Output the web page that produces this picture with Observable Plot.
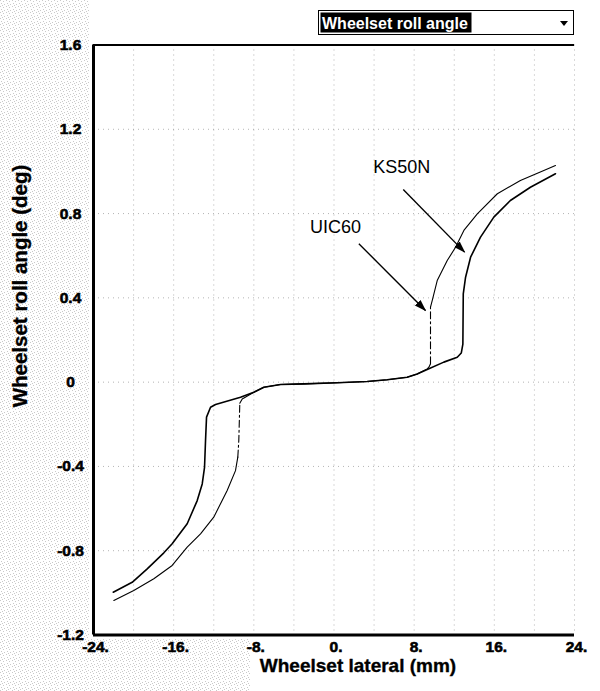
<!DOCTYPE html>
<html>
<head>
<meta charset="utf-8">
<script src="https://cdn.jsdelivr.net/npm/d3@7"></script>
<script src="https://cdn.jsdelivr.net/npm/@observablehq/plot@0.6"></script>
<style>
  html, body { margin: 0; padding: 0; background: #fff; }
  #chart svg { display: block; }
  #chart text.tick-heavy { stroke: #000; stroke-width: 0.6px; font-weight: bold; }
</style>
</head>
<body>
<div id="chart"></div>
<script>
// Axis ticks and their printed labels
const lateralTicks = [-24, -16, -8, 0, 8, 16, 24];
const lateralTickLabels = ["-24.", "-16.", "-8.", "0.", "8.", "16.", "24."];
const rollTicks = [1.6, 1.2, 0.8, 0.4, 0, -0.4, -0.8, -1.2];
const rollTickLabels = ["1.6", "1.2", "0.8", "0.4", "0", "-0.4", "-0.8", "-1.2"];
const lateralGrid = [-20, -16, -12, -8, -4, 0, 4, 8, 12, 16, 20, 24];
const rollGrid = [1.2, 0.8, 0.4, 0, -0.4, -0.8];

// UIC60 rail profile: wheelset lateral displacement (mm) vs roll angle (deg)
const uic60Lateral = [-21.97, -19.98, -17.98, -16.15, -14.65, -13.32, -12.0, -10.66, -9.83, -9.6,
  -9.5, -9.4, -9.16, -8.0, -7.0, -5.34, -3.0, 0.32, 3.3, 5.3, 7.3, 8.3, 9.3, 9.47, 9.63, 9.63,
  9.8, 10.3, 11.3, 12.13, 12.96, 14.3, 16.3, 18.6, 20.94, 22.1];
const uic60Roll = [-1.036, -0.989, -0.933, -0.870, -0.783, -0.720, -0.641, -0.514, -0.420, -0.356,
  -0.277, -0.100, -0.080, -0.048, -0.024, -0.011, -0.008, -0.003, 0.003, 0.011, 0.023, 0.039, 0.063, 0.071, 0.087, 0.356,
  0.387, 0.482, 0.577, 0.640, 0.720, 0.799, 0.894, 0.957, 1.004, 1.028];

// KS50N rail profile
const ks50nLateral = [-22.03, -20.14, -18.64, -16.98, -16.15, -14.65, -13.65, -13.15, -12.92, -12.82,
  -12.72, -12.32, -11.82, -9.33, -8.0, -7.0, -5.34, -3.0, 0.32, 3.3, 5.3, 7.3, 8.3, 9.3, 10.96,
  12.3, 12.7, 12.86, 12.9, 13.13, 13.63, 14.62, 15.95, 17.6, 19.6, 22.1];
const ks50nRoll = [-0.997, -0.950, -0.886, -0.810, -0.767, -0.672, -0.562, -0.483, -0.404, -0.277,
  -0.166, -0.119, -0.106, -0.072, -0.048, -0.024, -0.011, -0.008, -0.003, 0.003, 0.011, 0.023, 0.039, 0.060, 0.095,
  0.118, 0.138, 0.180, 0.419, 0.498, 0.593, 0.688, 0.783, 0.862, 0.925, 0.989];

// Annotations: label anchor and arrow (from -> to), in data units
const profileNames = ["UIC60", "KS50N"];
const labelLateral = [0.15, 6.77];
const labelRoll = [0.736, 1.021];
const arrowFromLateral = [2.48, 6.91];
const arrowFromRoll = [0.657, 0.914];
const arrowToLateral = [9.13, 13.03];
const arrowToRoll = [0.34, 0.617];

const selectorText = "Wheelset roll angle";
const xTitle = "Wheelset lateral (mm)";
const yTitle = "Wheelset roll angle (deg)";

// Split a curve into runs; near-vertical jumps (flange contact) become their own runs
function runs(xs, ys, steepSlope) {
  const out = [];
  let run = 0, prevSteep = null;
  for (let i = 0; i < xs.length - 1; i++) {
    const dx = xs[i + 1] - xs[i], dy = ys[i + 1] - ys[i];
    const steep = dx === 0 || Math.abs(dy / dx) > steepSlope;
    if (steep !== prevSteep) { run++; out.push({run, steep, x: xs[i], y: ys[i]}); }
    out.push({run, steep, x: xs[i + 1], y: ys[i + 1]});
    prevSteep = steep;
  }
  return out;
}
const uic60Runs = runs(uic60Lateral, uic60Roll, 0.5);
const ks50n = ks50nLateral.map((x, i) => ({x, y: ks50nRoll[i]}));

const notes = profileNames.map((name, i) => ({
  name, lx: labelLateral[i], ly: labelRoll[i],
  x1: arrowFromLateral[i], y1: arrowFromRoll[i], x2: arrowToLateral[i], y2: arrowToRoll[i]
}));

// Filled triangular arrowhead
function filledHead(color) {
  return d3.create("svg:marker")
    .attr("viewBox", "-7 -5 12 10")
    .attr("markerUnits", "userSpaceOnUse")
    .attr("markerWidth", 12)
    .attr("markerHeight", 10)
    .attr("refX", 4)
    .attr("refY", 0)
    .attr("orient", "auto")
    .attr("fill", color)
    .attr("stroke", "none")
    .call(m => m.append("path").attr("d", "M-7,-4L5,0L-7,4Z"))
    .node();
}

const font = "'Liberation Sans', Arial, Helvetica, sans-serif";

const chart = Plot.plot({
  width: 600,
  height: 691,
  marginLeft: 93,
  marginRight: 26,
  marginTop: 44.5,
  marginBottom: 56.5,
  style: {fontFamily: font, background: "transparent", color: "#000"},
  x: {domain: [-24, 24]},
  y: {domain: [-1.2, 1.6]},
  marks: [
    Plot.gridX(lateralGrid, {stroke: "#777", strokeOpacity: 0.55, strokeDasharray: "1,4", strokeWidth: 1}),
    Plot.gridY(rollGrid, {stroke: "#777", strokeOpacity: 0.55, strokeDasharray: "1,4", strokeWidth: 1}),
    Plot.axisX(lateralTicks, {
      tickSize: 0, tickPadding: 6, dx: 2, label: null,
      tickFormat: d => lateralTickLabels[lateralTicks.indexOf(d)],
      fontSize: 15.5, fontWeight: "bold"
    }),
    Plot.axisY(rollTicks, {
      tickSize: 0, tickPadding: 3, dx: -20, textAnchor: "middle", label: null,
      tickFormat: d => rollTickLabels[rollTicks.indexOf(d)],
      fontSize: 15.5, fontWeight: "bold"
    }),
    Plot.ruleY([1.6], {stroke: "#000", strokeWidth: 2}),
    Plot.ruleX([-24], {stroke: "#000", strokeWidth: 3}),
    Plot.ruleY([-1.2], {stroke: "#000", strokeWidth: 3}),
    // KS50N
    Plot.line(ks50n, {x: "x", y: "y", stroke: "#000", strokeWidth: 1.6}),
    // UIC60: solid runs and dashed jumps
    Plot.line(uic60Runs.filter(d => !d.steep), {x: "x", y: "y", z: "run", stroke: "#000", strokeWidth: 1.1}),
    Plot.line(uic60Runs.filter(d => d.steep), {x: "x", y: "y", z: "run", stroke: "#000", strokeWidth: 1.1, strokeDasharray: "7,3,2,3"}),
    Plot.link(notes, {x1: "x1", y1: "y1", x2: "x2", y2: "y2", stroke: "#000", strokeWidth: 1.4, markerEnd: filledHead}),
    Plot.text(notes, {x: "lx", y: "ly", text: "name", fontSize: 18, fill: "#000"}),
    Plot.text([xTitle], {frameAnchor: "bottom", dx: 24, dy: 37, fontSize: 19, fontWeight: "bold", fill: "#000", stroke: "#000", strokeWidth: 0.35}),
    Plot.text([yTitle], {frameAnchor: "left", textAnchor: "middle", rotate: -90, dx: -73, dy: -54, fontSize: 20.5, fontWeight: "bold", fill: "#000", stroke: "#000", strokeWidth: 0.35})
  ]
});

const svg = d3.select(chart);

// Tick labels: heavy bold, as printed on the plot
const tickLabelSet = new Set([...lateralTickLabels, ...rollTickLabels]);
svg.selectAll("text")
  .filter(function() { return tickLabelSet.has(this.textContent.trim()); })
  .classed("tick-heavy", true);

// Halftone stipple behind the left and lower-left margins
const defs = svg.insert("defs", ":first-child");
const pat = defs.append("pattern")
  .attr("id", "stipple").attr("width", 6).attr("height", 6)
  .attr("patternUnits", "userSpaceOnUse");
[[0, 0], [3, 1], [1, 3], [4, 4], [2, 5]].forEach(([px, py]) =>
  pat.append("rect").attr("x", px).attr("y", py).attr("width", 1).attr("height", 1).attr("fill", "#8a8a8a"));
const stip = svg.insert("g", "defs + *").attr("opacity", 0.45);
stip.append("rect").attr("x", 0).attr("y", 0).attr("width", 90).attr("height", 691).attr("fill", "url(#stipple)");
stip.append("rect").attr("x", 90).attr("y", 639).attr("width", 160).attr("height", 52).attr("fill", "url(#stipple)");

// Selector box showing the plotted quantity
const sel = svg.append("g").attr("font-family", font).attr("text-anchor", "start");
sel.append("rect").attr("x", 318.5).attr("y", 10.5).attr("width", 255).attr("height", 24)
  .attr("fill", "#fff").attr("stroke", "#000").attr("stroke-width", 1);
sel.append("rect").attr("x", 320.5).attr("y", 12.5).attr("width", 151).attr("height", 20).attr("fill", "#000");
sel.append("text").attr("x", 322).attr("y", 28.5).attr("fill", "#fff").attr("text-anchor", "start")
  .attr("font-size", 16).attr("font-weight", "bold").text(selectorText);
sel.append("path").attr("d", "M560,21L568,21L564,26Z").attr("fill", "#000");

document.getElementById("chart").appendChild(chart);
</script>
</body>
</html>
